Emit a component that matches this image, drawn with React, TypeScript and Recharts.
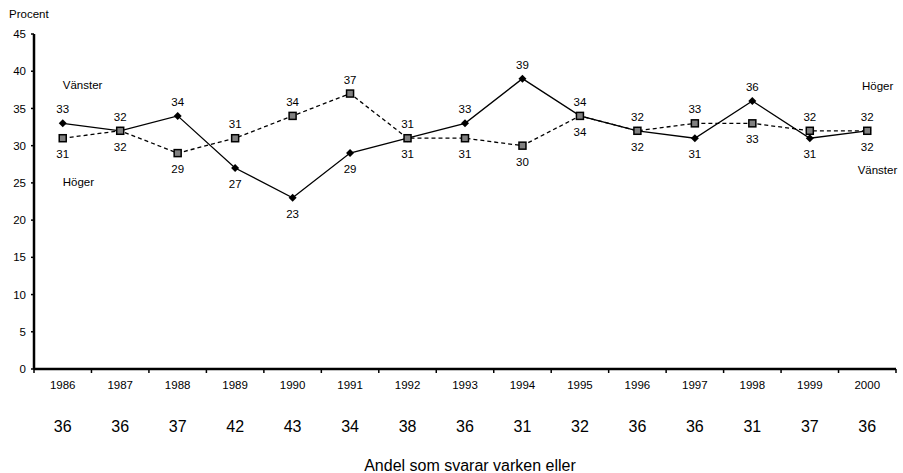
import { ComposedChart, Line, XAxis, YAxis, LabelList, Label } from 'recharts'

const years = ['1986', '1987', '1988', '1989', '1990', '1991', '1992', '1993', '1994', '1995', '1996', '1997', '1998', '1999', '2000']
const vanster = [33, 32, 34, 27, 23, 29, 31, 33, 39, 34, 32, 31, 36, 31, 32]
const hoger = [31, 32, 29, 31, 34, 37, 31, 31, 30, 34, 32, 33, 33, 32, 32]
const varkenEller = [36, 36, 37, 42, 43, 34, 38, 36, 31, 32, 36, 36, 31, 37, 36]
const yTicks = [0, 5, 10, 15, 20, 25, 30, 35, 40, 45]

const data = years.map((year, i) => ({ year, vanster: vanster[i], hoger: hoger[i] }))

const CHART_W = 903
const CHART_H = 473
const MARGIN = { top: 34, right: 7, bottom: 0, left: 0 }
const Y_AXIS_W = 34
const BAND = (CHART_W - MARGIN.left - MARGIN.right - Y_AXIS_W) / years.length
const X_PAD = { left: BAND / 2, right: BAND / 2 }
const FONT = '"Liberation Sans", Arial, sans-serif'
const SMALL = 11.5

function Diamond({ cx, cy }: any) {
  if (cx == null || cy == null) return null
  const r = 4
  return <polygon points={`${cx},${cy - r} ${cx + r},${cy} ${cx},${cy + r} ${cx - r},${cy}`} fill="#000" />
}

function Square({ cx, cy }: any) {
  if (cx == null || cy == null) return null
  const r = 3.5
  return <rect x={cx - r} y={cy - r} width={r * 2} height={r * 2} fill="#808080" stroke="#000" strokeWidth={1.5} />
}

function YearTick({ x, y, payload, index }: any) {
  const last = index === years.length - 1
  return (
    <g>
      <line x1={x - BAND / 2} x2={x - BAND / 2} y1={y} y2={y + 4} stroke="#000" strokeWidth={1.5} />
      {last && <line x1={x + BAND / 2} x2={x + BAND / 2} y1={y} y2={y + 4} stroke="#000" strokeWidth={1.5} />}
      <text x={x} y={y + 20} textAnchor="middle" fontSize={SMALL} fill="#000" fontFamily={FONT}>
        {payload.value}
      </text>
    </g>
  )
}

function VarkenTick({ x, y, index }: any) {
  return (
    <text x={x} y={y + 33} textAnchor="middle" fontSize={16} fill="#000" fontFamily={FONT}>
      {varkenEller[index]}
    </text>
  )
}

// value labels: the higher of the two series goes above its point, the lower below
function makeLabel(own: number[], other: number[], isLeft: boolean, name: string, nameUp: [number, number], nameDown: boolean) {
  return (props: any) => {
    const { x, y, index } = props
    if (x == null || y == null) return null
    const v = own[index]
    const above = v > other[index] || (v === other[index] && isLeft)
    const last = index === own.length - 1
    return (
      <g>
        <text x={x} y={above ? y - 10 : y + 20} textAnchor="middle" fontSize={SMALL} fill="#000" fontFamily={FONT}>
          {v}
        </text>
        {index === 0 && (
          <text x={x} y={y + nameUp[0]} textAnchor="start" fontSize={SMALL} fill="#000" fontFamily={FONT}>
            {name}
          </text>
        )}
        {last && (
          <text x={x + (nameDown ? 30 : 26)} y={y + nameUp[1]} textAnchor="end" fontSize={SMALL} fill="#000" fontFamily={FONT}>
            {name}
          </text>
        )}
      </g>
    )
  }
}

export default function App() {
  return (
    <div style={{ position: 'absolute', left: 0, top: 0, width: CHART_W, height: CHART_H, background: '#fff' }}>
      <ComposedChart width={CHART_W} height={CHART_H} data={data} margin={MARGIN}>
        <YAxis
          domain={[0, 45]}
          ticks={yTicks}
          width={Y_AXIS_W}
          tickSize={3}
          tickMargin={5}
          interval={0}
          axisLine={{ stroke: '#000', strokeWidth: 2.5 }}
          tickLine={{ stroke: '#000', strokeWidth: 1.5 }}
          tick={{ fontSize: SMALL, fill: '#000', fontFamily: FONT }}
        >
          <Label
            content={({ viewBox }: any) => (
              <text x={9} y={viewBox.y - 16} fontSize={SMALL} fill="#000" fontFamily={FONT}>
                Procent
              </text>
            )}
          />
        </YAxis>
        <XAxis
          xAxisId={0}
          dataKey="year"
          height={30}
          interval={0}
          padding={X_PAD}
          tickSize={0}
          tickMargin={0}
          tickLine={false}
          axisLine={{ stroke: '#000', strokeWidth: 2.5 }}
          tick={<YearTick />}
        />
        <XAxis
          xAxisId={1}
          dataKey="year"
          height={74}
          interval={0}
          padding={X_PAD}
          tickSize={0}
          tickMargin={0}
          tickLine={false}
          axisLine={false}
          tick={<VarkenTick />}
        >
          <Label
            content={({ viewBox }: any) => (
              <text
                x={viewBox.x + viewBox.width / 2 + 5}
                y={viewBox.y + 72}
                textAnchor="middle"
                fontSize={16}
                fill="#000"
                fontFamily={FONT}
              >
                Andel som svarar varken eller
              </text>
            )}
          />
        </XAxis>
        <Line
          xAxisId={0}
          dataKey="vanster"
          stroke="#000"
          strokeWidth={1.3}
          dot={<Diamond />}
          activeDot={false}
          isAnimationActive={false}
        >
          <LabelList dataKey="vanster" content={makeLabel(vanster, hoger, true, 'Vänster', [-34, 43], true)} />
        </Line>
        <Line
          xAxisId={0}
          dataKey="hoger"
          stroke="#000"
          strokeWidth={1.3}
          strokeDasharray="4 3"
          dot={<Square />}
          activeDot={false}
          isAnimationActive={false}
        >
          <LabelList dataKey="hoger" content={makeLabel(hoger, vanster, false, 'Höger', [48, -41], false)} />
        </Line>
      </ComposedChart>
    </div>
  )
}
